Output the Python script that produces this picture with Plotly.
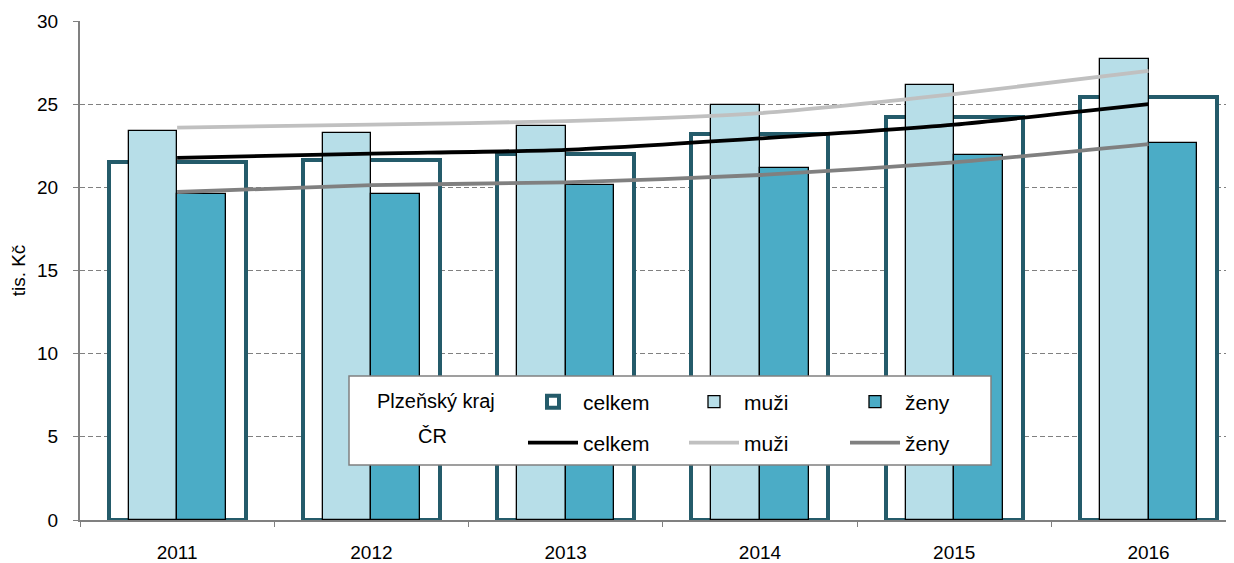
import plotly.graph_objects as go

# data (tis. Kč)
years = ["2011", "2012", "2013", "2014", "2015", "2016"]
kraj_celkem = [21.55, 21.65, 22.03, 23.22, 24.2, 25.43]
kraj_muzi = [23.4, 23.29, 23.66, 24.96, 26.15, 27.73]
kraj_zeny = [19.59, 19.59, 20.15, 21.17, 21.97, 22.68]
cr_celkem = [21.77, 22.03, 22.25, 22.94, 23.77, 25.0]
cr_muzi = [23.59, 23.77, 23.98, 24.46, 25.6, 27.0]
cr_zeny = [19.72, 20.13, 20.3, 20.74, 21.5, 22.6]

# the page body has an 8px margin, so the figure is drawn 8px smaller
W, H = 1226, 555
ML, MR, MT, MB = 72, 0, 13, 43
PW, PH = W - ML - MR, H - MT - MB

FONT = "Liberation Sans, Arial, sans-serif"
TEAL_DARK = "#245B6A"
MUZI_FILL = "#B7DEE8"
ZENY_FILL = "#4BACC6"


# helpers take page pixel positions (as measured on the reference)
def px_x(px):
    return (px - 80) / PW


def px_y(py):
    return (520 - py) / PH


fig = go.Figure()

fig.add_trace(go.Bar(
    x=years, y=kraj_celkem, name="celkem", width=0.705,
    marker=dict(color="white", line=dict(color=TEAL_DARK, width=4)),
    legend="legend",
))
fig.add_trace(go.Bar(
    x=years, y=kraj_muzi, name="muži", width=0.25, offset=-0.25,
    marker=dict(color=MUZI_FILL, line=dict(color="black", width=1.3)),
    legend="legend",
))
fig.add_trace(go.Bar(
    x=years, y=kraj_zeny, name="ženy", width=0.25, offset=0,
    marker=dict(color=ZENY_FILL, line=dict(color="black", width=1.3)),
    legend="legend",
))

for vals, name, col in [(cr_celkem, "celkem", "black"),
                        (cr_muzi, "muži", "#C0C0C0"),
                        (cr_zeny, "ženy", "#808080")]:
    fig.add_trace(go.Scatter(
        x=years, y=vals, name=name, mode="lines",
        line=dict(color=col, width=3.8, shape="spline", smoothing=0.6),
        legend="legend2",
    ))

# legend frame
fig.add_shape(type="rect", xref="paper", yref="paper",
              x0=px_x(349), x1=px_x(991), y0=px_y(465), y1=px_y(376),
              fillcolor="white", line=dict(color="#808080", width=1.5),
              layer="above")

fig.add_annotation(text="Plzeňský kraj", xref="paper", yref="paper",
                   x=px_x(436), y=px_y(401), xanchor="center",
                   yanchor="middle", showarrow=False,
                   font=dict(size=20, color="black", family=FONT))
fig.add_annotation(text="ČR", xref="paper", yref="paper",
                   x=px_x(432), y=px_y(436), xanchor="center",
                   yanchor="middle", showarrow=False,
                   font=dict(size=20, color="black", family=FONT))

leg_common = dict(
    orientation="h", xanchor="left", yanchor="middle",
    bgcolor="rgba(0,0,0,0)", borderwidth=0,
    itemwidth=50, entrywidth=96, entrywidthmode="pixels",
    font=dict(size=21, color="black", family=FONT),
    traceorder="normal",
)

fig.update_layout(
    width=W, height=H,
    margin=dict(l=ML, r=MR, t=MT, b=MB),
    plot_bgcolor="white", paper_bgcolor="white",
    barmode="overlay", bargap=0,
    font=dict(family=FONT, size=19, color="black"),
    showlegend=True,
    legend=dict(x=px_x(523), y=px_y(402), **leg_common),
    legend2=dict(x=px_x(523), y=px_y(443), **leg_common),
    xaxis=dict(
        type="category", range=[-0.5, 5.44], automargin=False,
        showline=True, linecolor="#808080", linewidth=2,
        ticks="outside", tickson="boundaries", ticklen=5,
        tickcolor="#808080", showgrid=False,
        tickfont=dict(size=19, color="black"),
        ticklabelstandoff=14,
    ),
    yaxis=dict(
        range=[0, 30], dtick=5, automargin=False,
        showline=True, linecolor="#808080", linewidth=2,
        ticks="outside", ticklen=5, tickcolor="#808080",
        showgrid=True, gridcolor="#808080", griddash="5px,3px", gridwidth=1,
        zeroline=False,
        tickfont=dict(size=19, color="black"),
        ticklabelstandoff=11,
        title=dict(text="tis. Kč", standoff=12, font=dict(size=19)),
    ),
)

fig.write_html("out.html")
